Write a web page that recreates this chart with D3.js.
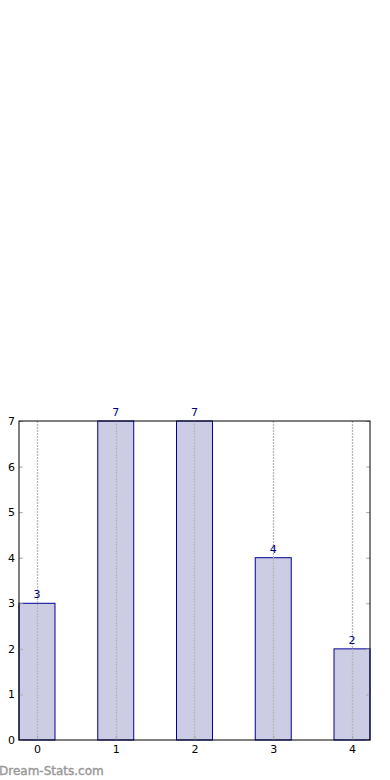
<!DOCTYPE html>
<html>
<head>
<meta charset="utf-8">
<script src="https://cdn.jsdelivr.net/npm/d3@7"></script>
<style>
  body { margin: 0; background: #fff; }
  text { font-family: "DejaVu Sans", sans-serif; }
</style>
</head>
<body>
<script>
// chart data
const categories = [0, 1, 2, 3, 4];
const values = [3, 7, 7, 4, 2];
const yTicks = [0, 1, 2, 3, 4, 5, 6, 7];

const width = 390, height = 780;
const mLeft = 19, mRight = 370, mTop = 421, mBottom = 740;
const barW = 0.457;

const svg = d3.select("body").append("svg")
    .attr("width", width)
    .attr("height", height);

const x = d3.scaleLinear()
    .domain([-barW / 2, 4 + barW / 2])
    .range([mLeft, mRight]);

const y = d3.scaleLinear()
    .domain([0, 7])
    .range([mBottom, mTop]);

// bars
svg.append("g")
  .selectAll("rect")
  .data(values)
  .enter().append("rect")
    .attr("x", (d, i) => x(categories[i] - barW / 2))
    .attr("y", d => y(d))
    .attr("width", x(barW) - x(0))
    .attr("height", d => y(0) - y(d))
    .attr("fill", "#ccccE4")
    .attr("stroke", "#000099")
    .attr("stroke-width", 1);

// dotted grid on top of bars
svg.append("g")
  .selectAll("line")
  .data(categories)
  .enter().append("line")
    .attr("x1", d => Math.round(x(d)) + 0.5)
    .attr("x2", d => Math.round(x(d)) + 0.5)
    .attr("y1", mTop)
    .attr("y2", mBottom)
    .attr("stroke", "#b8b8b8")
    .attr("stroke-width", 1.3)
    .attr("stroke-dasharray", "2,1");

// value labels
svg.append("g")
  .selectAll("text")
  .data(values)
  .enter().append("text")
    .attr("x", (d, i) => x(categories[i]))
    .attr("y", d => y(d) - 5)
    .attr("text-anchor", "middle")
    .attr("font-size", 11)
    .attr("fill", "#000080")
    .text(d => d);

// axes
const yAxis = d3.axisLeft(y).tickValues(yTicks).tickSize(-4).tickPadding(4).tickFormat(d3.format("d"));
const gy = svg.append("g").attr("transform", `translate(${mLeft},0)`).call(yAxis);
const yAxisR = d3.axisRight(y).tickValues(yTicks).tickSize(-4).tickFormat("");
const gyr = svg.append("g").attr("transform", `translate(${mRight},0)`).call(yAxisR);
const xAxis = d3.axisBottom(x).tickValues(categories).tickSize(-4).tickPadding(5).tickFormat(d3.format("d"));
const gx = svg.append("g").attr("transform", `translate(0,${mBottom})`).call(xAxis);

[gy, gyr, gx].forEach(g => {
  g.select(".domain").remove();
  g.selectAll(".tick line").attr("stroke", "#aaaaaa");
  g.selectAll(".tick text").attr("font-size", 11).attr("fill", "#000")
    .attr("font-family", "DejaVu Sans, sans-serif");
});

// frame
svg.append("rect")
    .attr("x", mLeft)
    .attr("y", mTop)
    .attr("width", mRight - mLeft)
    .attr("height", mBottom - mTop)
    .attr("fill", "none")
    .attr("stroke", "#000")
    .attr("stroke-width", 1);

// watermark
svg.append("text")
    .attr("x", -1)
    .attr("y", 775)
    .attr("font-size", 12)
    .attr("fill", "#999999")
    .attr("stroke", "#999999")
    .attr("stroke-width", 0.4)
    .text("Dream-Stats.com");
</script>
</body>
</html>
